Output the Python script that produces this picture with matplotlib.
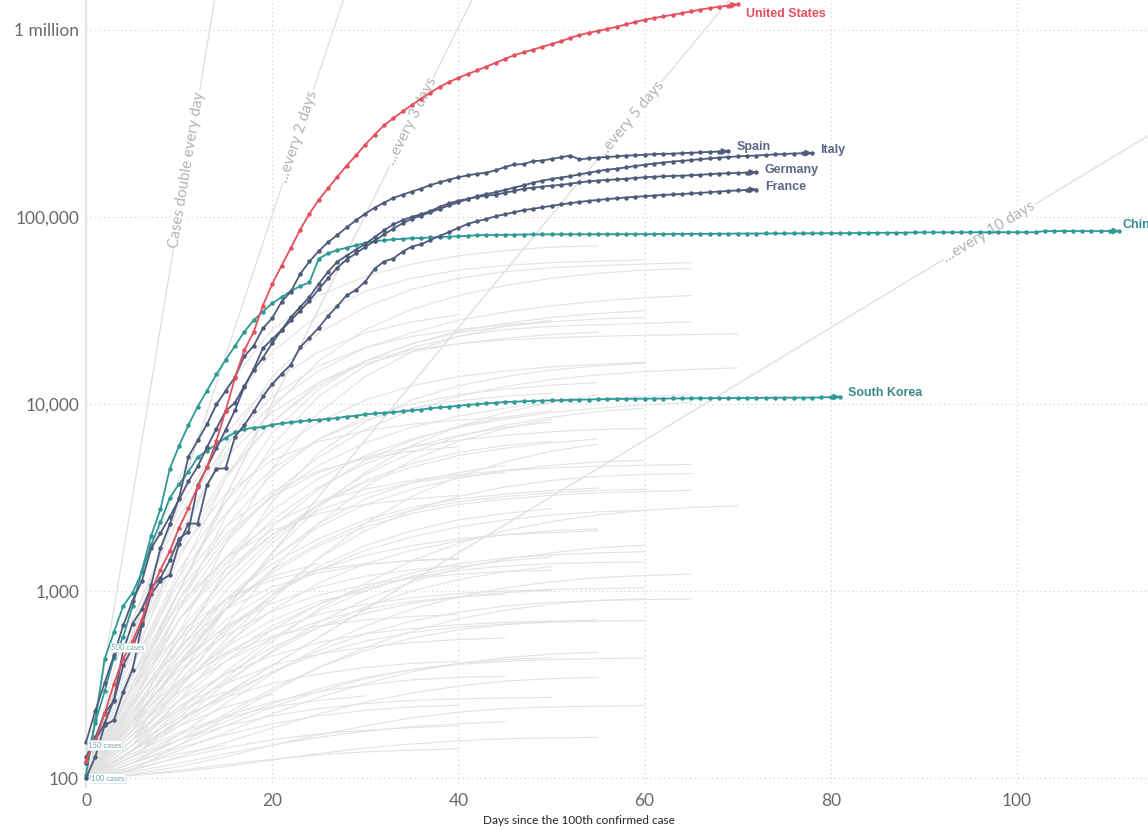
import math
import numpy as np
import matplotlib
matplotlib.use("Agg")
import matplotlib.pyplot as plt
from matplotlib.ticker import NullLocator

# confirmed cases, one value per day since the 100th case
us_cases = [124, 158, 221, 319, 435, 541, 704, 994, 1301, 1630, 2183, 2770, 3613, 4596, 6344,
            9197, 13779, 19367, 24192, 33592, 43781, 54856, 68211, 85435, 104126, 123578,
            142460, 163955, 188172, 213242, 243622, 275367, 308650, 336802, 366317, 397121,
            428654, 462780, 496535, 526396, 555313, 580619, 607670, 636350, 667801, 699706,
            732197, 759086, 784326, 811865, 840351, 869170, 905358, 938154, 965785, 988197,
            1012582, 1039909, 1069424, 1103461, 1132539, 1158040, 1180375, 1204351, 1229331,
            1257023, 1283929, 1309550, 1329260, 1347881, 1369376]
spain_cases = [120, 165, 222, 259, 400, 500, 673, 1073, 1695, 2277, 3146, 5232, 6391, 7798, 9942,
               11748, 13910, 17963, 20410, 25374, 28768, 35136, 39885, 49515, 57786, 65719, 73235,
               80110, 87956, 95923, 104118, 112065, 119199, 126168, 131646, 136675, 141942,
               148220, 153222, 158273, 163027, 166831, 170099, 172541, 177644, 184948, 190839,
               191726, 198674, 200210, 204178, 208389, 213024, 202990, 205905, 207634, 209465,
               210773, 212917, 213435, 215216, 216582, 217466, 218011, 219329, 220325, 221447,
               222857, 223578, 224350]
italy_cases = [155, 229, 322, 453, 655, 888, 1128, 1694, 2036, 2502, 3089, 3858, 4636, 5883, 7375,
               9172, 10149, 12462, 15113, 17660, 21157, 24747, 27980, 31506, 35713, 41035, 47021,
               53578, 59138, 63927, 69176, 74386, 80589, 86498, 92472, 97689, 101739, 105792,
               110574, 115242, 119827, 124632, 128948, 132547, 135586, 139422, 143626, 147577,
               152271, 156363, 159516, 162488, 165155, 168941, 172434, 175925, 178972, 181228,
               183957, 187327, 189973, 192994, 195351, 197675, 199414, 201505, 203591, 205463,
               207428, 209328, 210717, 211938, 213013, 214457, 215858, 217185, 218268, 219070,
               219814]
germany_cases = [130, 159, 196, 262, 482, 670, 799, 1040, 1176, 1457, 1908, 2078, 3675, 4585, 5795,
                 7272, 9257, 12327, 15320, 19848, 22213, 24873, 29056, 32986, 37323, 43938, 50871,
                 57695, 62095, 66885, 71808, 77872, 84794, 91159, 96092, 100123, 103374, 107663,
                 113296, 118181, 122171, 124908, 127854, 130072, 131359, 134753, 137698, 141397,
                 143342, 145184, 147065, 148291, 150648, 153129, 154999, 156513, 157770, 158758,
                 159912, 161539, 163009, 164077, 164967, 165664, 166152, 167007, 168162, 169430,
                 170588, 171324, 171879, 172576, 173171]
france_cases = [100, 130, 191, 204, 288, 380, 656, 959, 1136, 1219, 1794, 2293, 2293, 3681, 4496,
                4532, 6683, 7715, 9124, 10970, 12758, 14463, 16243, 20123, 22622, 25600, 29551,
                33402, 38105, 40708, 45170, 52827, 57749, 59929, 65202, 69500, 71412, 75343, 79163,
                83057, 87366, 91738, 94863, 97500, 100800, 103300, 106000, 108800, 110500, 112600,
                114700, 116700, 118500, 120300, 121900, 123300, 124600, 125800, 127000, 128100,
                129200, 130200, 131100, 131900, 132700, 133500, 134500, 135600, 136700, 137700,
                138600, 139400, 140200]
korea_cases = [104, 204, 433, 602, 833, 977, 1261, 1766, 2337, 3150, 3736, 4335, 5186, 5621, 6088,
               6593, 7041, 7314, 7478, 7513, 7755, 7869, 7979, 8086, 8162, 8236, 8320, 8413, 8565,
               8652, 8799, 8897, 8961, 9037, 9137, 9241, 9332, 9478, 9583, 9661, 9786, 9887, 9976,
               10062, 10156, 10237, 10284, 10331, 10384, 10423, 10450, 10480, 10512, 10537, 10564,
               10591, 10613, 10635, 10653, 10661, 10674, 10683, 10694, 10702, 10708, 10718, 10728,
               10738, 10752, 10761, 10765, 10774, 10780, 10793, 10801, 10804, 10806, 10810, 10822,
               10840, 10874, 10909]
china_cases = [121, 198, 291, 440, 571, 830, 1287, 1975, 2744, 4515, 5974, 7711, 9692, 11791,
               14380, 17205, 20438, 24324, 28018, 31161, 34546, 37198, 40171, 42638, 44653, 59804,
               63851, 66492, 68500, 70548, 72436, 74185, 75002, 75891, 76288, 76936, 77150, 77658,
               78064, 78497, 78824, 79251, 79824, 80026, 80151, 80270, 80409, 80552, 80651, 80695,
               80735, 80754, 80778, 80793, 80813, 80824, 80844, 80860, 80881, 80894, 80928, 80967,
               81008, 81054, 81093, 81171, 81218, 81285, 81340, 81394, 81470, 81518, 81554, 81589,
               81620, 81639, 81669, 81708, 81740, 81802, 81865, 81907, 81953, 82052, 82160, 82249,
               82295, 82341, 82367, 82692, 82719, 82735, 82747, 82758, 82788, 82798, 82804, 82816,
               82827, 82830, 82836, 82858, 82862, 84010, 84016, 84024, 84029, 84040, 84050, 84054,
               84061, 84080]

# background countries, one value every 5 days since the 100th case
grey_step = 5
grey_cases = [
    [100, 900, 4000, 12000, 25000, 38000, 48000, 56000, 62000, 66000, 69000, 70000],
    [100, 600, 3000, 9000, 19000, 30000, 40000, 47000, 52000, 55000, 57000, 58000, 59000],
    [100, 400, 1800, 6000, 14000, 24000, 33000, 41000, 47000, 51000, 53500, 55000, 56000, 57000],
    [100, 350, 1200, 4000, 9500, 17000, 25000, 32000, 38000, 43000, 47000, 50000, 52000, 53000],
    [100, 500, 2000, 5500, 10000, 15000, 20000, 24000, 28000, 31000, 33500, 35500, 37000, 38000],
    [100, 300, 1000, 3000, 7000, 12000, 17000, 21000, 24500, 27000, 29000, 30500, 31500],
    [100, 250, 800, 2500, 6000, 11000, 16000, 20000, 23000, 25000, 26000, 26500, 27000, 27500],
    [100, 700, 2500, 6000, 11000, 16000, 20000, 23000, 25000, 26500, 27500],
    [100, 450, 1500, 4000, 8000, 13000, 17000, 19500, 21000, 22000, 22600, 23000, 23300, 23500, 23700],
    [100, 200, 600, 1800, 4500, 9000, 14000, 19000, 23000, 26000, 28000],
    [100, 400, 1300, 3000, 5500, 8000, 10500, 12500, 14000, 15000, 15800, 16300, 16700],
    [100, 300, 900, 2200, 4200, 6500, 8500, 10000, 11200, 12000, 12600, 13000],
    [100, 180, 500, 1300, 3000, 5500, 8000, 10500, 12500, 14000, 15200, 16000, 16500],
    [100, 350, 1000, 2000, 3200, 4300, 5200, 5900, 6400, 6800, 7100, 7300, 7400],
    [100, 250, 700, 1500, 2700, 4000, 5300, 6500, 7500, 8300, 9000, 9500, 9900, 10200],
    [100, 500, 1600, 3300, 5000, 6300, 7200, 7800, 8200, 8500],
    [100, 220, 550, 1200, 2200, 3500, 5000, 6400, 7600, 8500, 9200],
    [100, 160, 350, 800, 1600, 2800, 4300, 6000, 7600, 9000, 10200, 11200],
    [100, 300, 800, 1500, 2300, 3000, 3500, 3900, 4200, 4400, 4550, 4650, 4700, 4750],
    [100, 200, 450, 900, 1500, 2200, 2900, 3500, 4000, 4400, 4700, 4900, 5000],
    [100, 150, 300, 650, 1300, 2300, 3600, 5000, 6300, 7400, 8300],
    [100, 400, 1100, 2200, 3400, 4400, 5100, 5600, 5900],
    [100, 260, 600, 1200, 2000, 2900, 3800, 4600, 5300, 5800, 6200, 6500],
    [100, 180, 400, 850, 1500, 2300, 3100, 3800, 4300, 4700],
    [100, 320, 900, 1900, 3200, 4700, 6200, 7500, 8600, 9500, 10200, 10700, 11000, 11200],
    [100, 140, 260, 500, 900, 1500, 2300, 3200, 4100, 4900, 5600, 6100],
    [100, 230, 500, 900, 1400, 1900, 2400, 2800, 3100, 3300, 3450, 3550],
    [100, 350, 850, 1500, 2100, 2600, 2900, 3100, 3250],
    [100, 190, 420, 800, 1300, 1800, 2300, 2700, 3000, 3200, 3350, 3450, 3500],
    [100, 270, 700, 1400, 2400, 3600, 4800, 5900, 6800, 7500, 8000],
    [100, 200, 400, 700, 1000, 1300, 1550, 1750, 1900, 2000, 2050, 2100],
    [100, 150, 260, 420, 620, 850, 1050, 1250, 1400, 1500, 1560, 1600, 1620],
    [100, 250, 500, 800, 1050, 1250, 1380, 1460, 1500],
    [100, 170, 330, 600, 950, 1350, 1750, 2100, 2400, 2600, 2750],
    [100, 130, 200, 320, 480, 680, 900, 1120, 1320, 1480, 1600, 1700, 1760],
    [100, 210, 380, 580, 780, 950, 1080, 1170, 1230, 1270, 1290],
    [100, 160, 280, 450, 650, 850, 1030, 1180, 1290, 1360, 1400, 1420, 1430],
    [100, 120, 170, 250, 360, 500, 650, 800, 930, 1040, 1120, 1180, 1210, 1230],
    [100, 300, 600, 900, 1150, 1300, 1400, 1450, 1480],
    [100, 140, 230, 370, 560, 780, 1000, 1200, 1350, 1450, 1520],
    [100, 190, 320, 470, 620, 750, 850, 920, 970, 1000, 1020, 1030, 1040],
    [100, 110, 150, 210, 290, 390, 500, 610, 710, 790, 850, 890, 910],
    [100, 230, 420, 640, 860, 1050, 1200, 1300, 1370],
    [100, 150, 240, 360, 500, 640, 760, 860, 930, 980, 1010],
    [100, 130, 190, 270, 370, 480, 590, 690, 770, 830, 870, 890, 900, 905],
    [100, 170, 260, 360, 450, 530, 590, 630, 660, 680, 690],
    [100, 120, 160, 220, 300, 390, 480, 560, 620, 660, 690, 700],
    [100, 200, 330, 460, 570, 650, 700, 730, 750],
    [100, 140, 200, 280, 370, 460, 540, 600, 640, 665, 680, 690, 695],
    [100, 115, 140, 175, 220, 270, 320, 370, 410, 440, 460, 470],
    [100, 160, 240, 320, 400, 460, 500, 530, 550, 560],
    [100, 125, 160, 200, 250, 300, 345, 380, 405, 420, 430, 435, 438],
    [100, 150, 210, 270, 320, 360, 390, 410, 420],
    [100, 110, 130, 155, 185, 220, 255, 285, 310, 330, 340, 345],
    [100, 135, 175, 215, 255, 290, 315, 335, 345, 350],
    [100, 105, 115, 130, 150, 170, 190, 210, 225, 235, 240, 242, 244],
    [100, 120, 145, 170, 195, 215, 230, 240, 245],
    [100, 108, 120, 135, 150, 165, 178, 188, 195, 200],
    [100, 130, 160, 190, 215, 235, 250, 260, 265, 268, 270],
    [100, 103, 108, 115, 125, 135, 145, 152, 158, 162, 164, 165],
    [100, 112, 128, 145, 160, 172, 180, 186, 190],
    [100, 104, 110, 118, 126, 133, 138, 141, 143],
    [100, 180, 290, 420, 560, 690, 800, 880, 930, 960],
    [100, 220, 450, 800, 1250, 1750, 2200, 2600, 2900, 3100, 3250, 3350, 3400, 3450],
    [100, 160, 300, 550, 950, 1500, 2100, 2700, 3200, 3600, 3900, 4100, 4200, 4250],
    [100, 400, 1200, 2600, 4500, 6500, 8200, 9500, 10400, 11000, 11400],
    [100, 600, 2200, 5200, 9000, 13000, 16500, 19000, 21000, 22500, 23500, 24200],
    [100, 280, 800, 1800, 3300, 5200, 7300, 9300, 11000, 12400, 13500, 14300, 14900, 15300, 15600],
    [100, 130, 210, 340, 540, 800, 1100, 1450, 1800, 2100, 2350, 2550, 2700, 2800, 2850],
    [100, 240, 560, 1100, 1900, 2900, 3900, 4800, 5500, 6000, 6300],
    [100, 190, 360, 620, 950, 1300, 1650, 1950, 2200, 2400, 2550, 2650, 2700],
    [100, 210, 480, 1000, 1800, 2900, 4200, 5500, 6700, 7700, 8500, 9100, 9500],
    [100, 140, 220, 330, 470, 640, 820, 1000, 1150, 1270, 1350],
    [100, 170, 310, 520, 790, 1100, 1400, 1650, 1850, 2000, 2100, 2150],
    [100, 120, 150, 190, 240, 290, 340, 380, 410, 430, 440],
    [100, 300, 700, 1300, 2000, 2700, 3300, 3800, 4100, 4300],
    [100, 700, 2800, 7000, 13000, 19000, 24000, 27500, 30000],
    [100, 500, 1700, 4200, 8000, 12500, 17000, 21000, 24000, 26000, 27500, 28500, 29000],
    [100, 160, 230, 290],
    [100, 140, 190, 240, 280],
    [100, 250, 550, 900, 1200, 1400],
    [100, 130, 170, 210, 240, 260, 275],
    [100, 200, 400, 650, 900],
    [100, 115, 135, 150],
    [100, 180, 320, 500, 700, 880, 1000],
]

doubling_days = [1, 2, 3, 5, 10]
doubling_labels = ["Cases double every day", "...every 2 days", "...every 3 days",
                   "...every 5 days", "...every 10 days"]
start_marks = [100, 150, 500]
start_labels = ["100 cases", "150 cases", "500 cases"]
y_ticks = [100, 1000, 10000, 100000, 1000000]
y_tick_labels = ["100", "1,000", "10,000", "100,000", "1 million"]
x_ticks = [0, 20, 40, 60, 80, 100]

RED = "#e4505d"
SLATE = "#4f5b7b"
TEAL = "#2f9a95"

plt.rcParams['font.family'] = ['Lato', 'DejaVu Sans']

fig = plt.figure(figsize=(11.48, 8.30), dpi=100)
ax = fig.add_axes([86 / 1148, 43 / 830, 1 - 86 / 1148, 787 / 830])
ax.set_yscale("log")
x_max = 114.07
ax.set_xlim(0, x_max)
ax.set_ylim(10 ** 1.952, 10 ** 6.16)

ax.set_yticks(y_ticks)
ax.set_yticklabels(y_tick_labels)
ax.yaxis.set_minor_locator(NullLocator())
ax.set_xticks(x_ticks)
ax.tick_params(length=0, labelsize=12.5, colors="#6a6a6a")
ax.tick_params(axis="y", pad=5)
ax.tick_params(axis="x", pad=4)
ax.grid(True, color="#d4d4d4", lw=0.9, ls=(0, (1, 2.5)))
ax.set_axisbelow(True)
for side in ["top", "right", "bottom"]:
    ax.spines[side].set_visible(False)
ax.spines["left"].set_color("#e4e4e4")
ax.spines["left"].set_linewidth(1.6)

ax.set_xlabel("Days since the 100th confirmed case", fontsize=8.5, color="#222222")
ax.xaxis.set_label_coords(0.464, -0.036)

# background countries
for vals in grey_cases:
    days = np.arange(len(vals)) * grey_step
    ax.plot(days, vals, color="#e3e3e3", lw=0.8, zorder=1, solid_capstyle="round")

# doubling guide lines
for d, label, lx in zip(doubling_days, doubling_labels, [10.8, 22.8, 35.0, 58.5, 97.0]):
    xs = np.array([0, x_max])
    ax.plot(xs, 100 * 2 ** (xs / d), color="#e0e0e0", lw=1.0, zorder=2)
    ly = 100 * 2 ** (lx / d)
    p1 = ax.transData.transform((lx, ly))
    p2 = ax.transData.transform((lx + 1, ly * 2 ** (1 / d)))
    angle = math.degrees(math.atan2(p2[1] - p1[1], p2[0] - p1[0]))
    ax.text(lx, ly, label, rotation=angle, rotation_mode="anchor", ha="center", va="center",
            fontsize=11, color="#b3b3b3", zorder=3,
            bbox=dict(boxstyle="square,pad=0.05", fc="white", ec="none", alpha=0.9))

# highlighted countries: name, values, line colour, label colour, label offset (pt)
highlights = [
    ("China", china_cases, TEAL, "#3a8e97", (2, 4)),
    ("South Korea", korea_cases, TEAL, "#3b8a84", (6, 3)),
    ("France", france_cases, SLATE, "#5b6788", (6, 2)),
    ("Germany", germany_cases, SLATE, "#5b6788", (6, 2)),
    ("Italy", italy_cases, SLATE, "#5b6788", (6, 2)),
    ("Spain", spain_cases, SLATE, "#5b6788", (6, 3)),
    ("United States", us_cases, RED, RED, (6, -7)),
]
for z, (name, vals, color, tcolor, offset) in enumerate(highlights):
    days = np.arange(len(vals))
    ax.plot(days, vals, color=color, lw=1.3, marker="o", ms=2.2, mec=color,
            zorder=5 + z, clip_on=False)
    ax.annotate("", xy=(days[-1], vals[-1]), xytext=(days[-2], vals[-2]),
                arrowprops=dict(arrowstyle="-|>", color=color, lw=1.2, mutation_scale=9,
                                shrinkA=0, shrinkB=0), zorder=5 + z)
    ax.annotate(name, xy=(days[-1], vals[-1]), xytext=offset, textcoords="offset points",
                ha="left", va="center", fontsize=9, fontweight="bold", color=tcolor,
                family=["Liberation Sans", "DejaVu Sans"], annotation_clip=False, zorder=20)

# small start markers
for val, label, lx in zip(start_marks, start_labels, [0.5, 0.2, 2.7]):
    ax.text(lx, val, label, fontsize=5.5, color="#6aa3a6", ha="left", va="center", zorder=15,
            bbox=dict(boxstyle="square,pad=0.15", fc="white", ec="#cfe3e3", lw=0.5))

fig.savefig("out.png", dpi=100)
